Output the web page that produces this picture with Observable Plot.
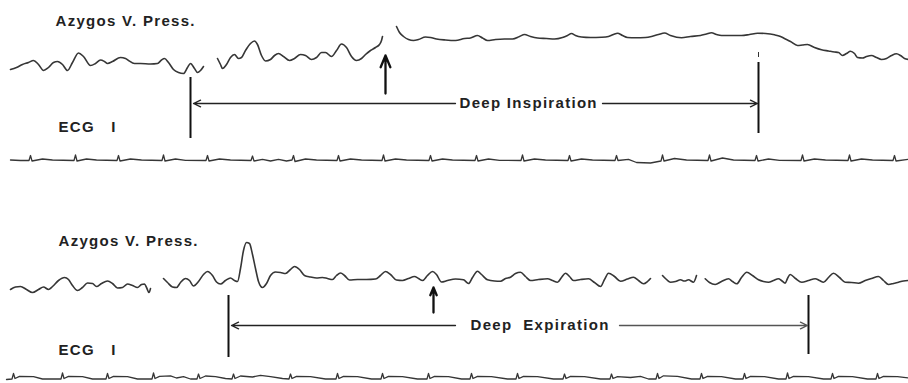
<!DOCTYPE html>
<html><head><meta charset="utf-8">
<script src="https://cdn.jsdelivr.net/npm/d3@7"></script>
<script src="https://cdn.jsdelivr.net/npm/@observablehq/plot@0.6"></script>
<style>
html,body{margin:0;padding:0;background:#fff;}
#chart svg text{letter-spacing:1.3px;}
</style></head><body><div id="chart"></div>
<script>
// ---- Top record: deep inspiration ----
const pressTopA = [[10,69],[16,67],[22,64],[28,62],[33,60],[38,64],[43,70],[48,67],[53,62],[57,61],[62,64],[67,70],[72,62],[78,52.5],[83,56],[90,65],[95,63],[100,59.5],[104,61],[107,63],[112,61],[120,57],[125,58],[128,60],[134,63],[140,63],[150,63.5],[157,63],[161,59.5],[164,58],[168,62],[173,69],[178,72],[183,73],[187,67],[190,63],[194,68],[197,72],[200,70],[203,66]];
const pressTopB = [[217,58],[220,64],[222,68],[226,64],[230,57],[234,54],[238,58],[241,57],[245,50],[250,43],[254,40.5],[257,44],[261,55],[265,60.5],[270,59],[274,55],[278,53],[283,56],[289,60],[294,58],[300,54],[305,55],[311,59],[316,57],[321,52],[325,52],[331,56],[336,50],[341,43.5],[346,47],[351,56],[356,60],[361,58],[365,54],[370,50],[375,47],[379,44],[381,40],[382,36]];
const pressTopC = [[396,26],[399,32],[403,36],[408,39],[413,40],[418,39],[425,36.5],[430,37],[436,38.5],[445,39.5],[455,40],[464,38],[470,37.5],[477,35],[482,37.5],[487,40],[495,39],[504,38.5],[512,38.5],[519,36],[524,34],[530,36],[537,37.5],[546,38],[554,38.5],[562,37],[567,35],[571,33],[575,35],[581,36.5],[590,37],[601,36.7],[608,36],[613,34],[617,32.7],[622,35],[627,37],[635,37.3],[645,37],[651,36],[658,34],[664,32.5],[670,35],[681,37.3],[690,36],[700,35],[706,33.5],[711,32.3],[716,34],[721,35],[731,35],[741,35],[749,34],[757,32.7],[765,33],[774,34.3],[780,36],[784,38],[790,41],[797,45],[802,44.5],[807,44],[814,47],[821,49.3],[828,50.5],[834,51.5],[838,52],[842,55],[846,53],[850,50.7],[854,53],[857,57],[862,57.5],[866,56],[871,55],[876,57],[881,59],[886,58],[891,55],[896,53.3],[900,55],[904,58],[908,59]];
const ecgTop = [[10,159.5],[20,160],[28.5,160],[30,155],[31.5,160.5],[42,158.5],[52,159.5],[73.5,160],[75,154.5],[76.5,160.5],[86,158.5],[96,159.5],[116.5,160],[118,155],[119.5,160.5],[130,158.5],[141,159.5],[161.5,160],[163,154.5],[164.5,160.5],[175,158.5],[185,159.8],[205.5,160],[207,155],[208.5,160.5],[219,158.5],[230,159.5],[250.5,160],[252,155.5],[253.5,160.5],[262,158.8],[270,160.5],[278,158.8],[286,160.5],[291.5,159.5],[293,155],[294.5,161],[305,158.5],[316,159.5],[336.5,160],[338,155],[339.5,160.5],[350,158.5],[361,159.5],[381.5,160],[383,154.5],[384.5,160.5],[395,158.5],[406,159.5],[428.5,160],[430,155],[431.5,160.5],[442,158.5],[452,159.5],[474.5,160],[476,155],[477.5,160.5],[488,158.5],[499,159.8],[520.5,160],[522,154.5],[523.5,160.5],[534,158.5],[545,159.5],[567.5,160],[569,155],[570.5,160.5],[581,158.5],[592,159.5],[614.5,160],[616,155],[617.5,160],[628,158.8],[636,162],[650,162.5],[660.5,160.5],[662,154.5],[663.5,160.5],[674,158],[686,159.5],[707.5,160],[709,154.5],[710.5,160.5],[722,157.5],[733,159.5],[754.5,160],[756,155],[757.5,160.5],[768,158.5],[779,159.8],[800.5,160],[802,154.5],[803.5,160.5],[814,158.5],[825,159.5],[847.5,160],[849,154.5],[850.5,160.5],[861,158.5],[872,159.5],[892.5,160],[894,155],[895.5,160.5],[908,158.8]];

// ---- Bottom record: deep expiration ----
const pressBotA = [[10,289],[15,286.5],[20,286],[26,289],[32,292],[38,289],[43,286.5],[48,289],[52,286],[58,280],[64,277],[68,279],[72,285],[77,290],[82,287],[87,282.5],[92,283],[96,286],[101,283],[107,280.5],[112,283],[117,287.5],[122,287],[127,283.5],[132,285],[137,287],[141,284],[144,283.5],[146,287],[148.5,292],[150,288]];
const pressBotB = [[163,278],[167,282],[172,286.5],[176,287],[180,282],[185,278],[189,280],[193,285.5],[198,281],[203,274],[207,271],[212,275],[216,281.5],[220,283.5],[225,280],[230,277.5],[234,280],[237,281],[240,268],[243,250],[246,242],[249,243],[252,254],[255,268],[258,281],[262,287],[266,283],[270,275],[275,271.5],[280,272],[285,273],[290,269],[294,266],[299,269],[304,275],[310,276.5],[316,277.5],[322,277],[327,278],[332,279],[336,275],[340,272.5],[344,275],[349,279.5],[357,279],[366,279],[375,278.5],[380,275],[385,271],[390,274],[396,279.5],[402,280],[408,278],[414,276],[418,278],[422,280],[427,275],[432,271],[436,274],[441,281.5],[447,280],[455,278.5],[463,279.3],[468,283],[472,277],[477,270.7],[481,274],[487,279.3],[494,280.5],[500,280.7],[505,278],[510,276.7],[515,273],[520,271.7],[525,276],[530,280],[538,279],[547,278.3],[552,280],[557,281.7],[561,277],[565,272.7],[569,276],[573,280],[580,279],[588,278.3],[594,282],[600,286],[604,279],[608,272.7],[614,276],[620,280.7],[627,278.5],[633,276.7],[638,280],[643,283.3],[647,281],[650,278]];
const pressBotC = [[662,275],[666,279],[670,281.7],[675,281],[680,279.3],[684,280.5],[688,279.3],[693,281.7],[696,275]];
const pressBotD = [[704.7,278.3],[709,282],[714.7,284],[721,281],[728,278.3],[732,281],[736.3,283.3],[741,277],[746.3,271.7],[752,275],[758,279.3],[763,281],[768,281.7],[773,280],[778,278.3],[781,280],[784.7,282.7],[787,278],[789.7,274],[795,278],[801.3,281.7],[808,280],[814.7,278.3],[819,280],[823,281.7],[828,277],[833,272.7],[839,277],[844.7,281.7],[851,282],[858,282.7],[864.7,280],[871,278],[878,276],[883,280],[888,284],[893,283],[898,281.7],[903,280.5],[908,280]];
const ecgBot = [[6,379],[11.5,378.5],[13,373],[14.5,378],[19,375.8],[33,376.2],[42,378.5],[60.5,378.5],[62,372.5],[63.5,378],[68,375.8],[82,376.2],[92,378.5],[105.5,378.5],[107,373],[108.5,378],[113,375.8],[127,376.2],[137,378.5],[151.5,378.5],[153,372.5],[154.5,378],[159,375.8],[170,375.3],[176,377.5],[183,376.2],[190,378.5],[196.5,378.5],[198,373.5],[199.5,378],[205,375.5],[215,376.2],[225,378],[231.5,378.5],[233,373.5],[234.5,378],[240,375.5],[252,376.5],[260,374.8],[270,376.2],[282,378],[288.5,378.5],[290,373.5],[291.5,378],[296,375.8],[310,376.2],[325,378.5],[335.5,378.5],[337,373],[338.5,378],[343,375.8],[357,376.2],[371,378.5],[380.5,378.5],[382,373],[383.5,378],[388,375.8],[402,376.2],[417,378.5],[426.5,378.5],[428,373],[429.5,378],[434,375.8],[448,376.2],[461,378.5],[469.5,378.5],[471,373],[472.5,378],[477,375.8],[491,376.2],[507,378.5],[515.5,378.5],[517,373],[518.5,378],[523,375.8],[537,376.2],[553,378.5],[562.5,378.5],[564,373.5],[565.5,378],[570,375.8],[584,376.2],[600,378.5],[609.5,378.5],[611,373.5],[612.5,378],[617,376.2],[630,377],[640,375.8],[648,378.5],[655.5,378.5],[657,373],[658.5,378],[663,375.3],[677,375.8],[691,378.5],[699.5,378.5],[701,373],[702.5,378],[707,375.8],[721,376.2],[735,378.5],[742.5,378.5],[744,373],[745.5,378],[750,375.8],[764,376.2],[778,378.5],[785.5,378.5],[787,372.5],[788.5,378],[793,375.8],[808,376.2],[823,378.5],[830.5,378.5],[832,373],[833.5,378],[838,375.8],[852,376.2],[867,378.5],[875.5,378.5],[877,373],[878.5,378],[883,375.8],[897,376.2],[908,377.5]];

// ---- Annotations ----
const labelText = ["Azygos V. Press.", "ECG\u00a0\u00a0\u00a0I", "Azygos V. Press.", "ECG\u00a0\u00a0\u00a0I"];
const labelX = [55, 58, 58, 58];
const labelY = [21, 127, 241, 350];
const spanText = ["Deep Inspiration", "Deep\u00a0\u00a0Expiration"];
const spanTextX = [459, 470];
const spanY = [103, 325];
const spanStart = [190, 228];
const spanEnd = [758, 808];
const spanLeftFrom = [455, 455];
const spanRightFrom = [602, 619];
const markerY1 = [77, 62, 295, 295];
const markerY2 = [138, 133, 357, 354];
const markerX = [190, 758, 228, 808];
const eventX = [385, 433];
const eventFrom = [93, 312];
const eventTo = [55, 287];

const idx = (n) => d3.range(n);
const traceColor = "#363636";
const font = "Liberation Sans, Arial, sans-serif";
const wave = (data) => Plot.line(data, {x: d => d[0], y: d => d[1], curve: "monotone-x", stroke: traceColor, strokeWidth: 1.6});
const ecg = (data) => Plot.line(data, {x: d => d[0], y: d => d[1], curve: "linear", stroke: traceColor, strokeWidth: 1.3});

const chart = Plot.plot({
  width: 908, height: 383, margin: 0,
  x: {domain: [0, 908], axis: null},
  y: {domain: [0, 383], reverse: true, axis: null},
  marks: [
    wave(pressTopA), wave(pressTopB), wave(pressTopC), ecg(ecgTop),
    wave(pressBotA), wave(pressBotB), wave(pressBotC), wave(pressBotD), ecg(ecgBot),
    Plot.ruleX(idx(4), {x: i => markerX[i], y1: i => markerY1[i], y2: i => markerY2[i], stroke: "#111", strokeWidth: 2}),
    Plot.ruleX([758], {y1: [52], y2: [57], stroke: "#333", strokeWidth: 1}),
    Plot.arrow(idx(2), {x1: i => spanLeftFrom[i], x2: i => spanStart[i] + 3, y1: i => spanY[i], y2: i => spanY[i], stroke: "#222", strokeWidth: 1.3, headLength: 9, headAngle: 50}),
    Plot.arrow(idx(2), {x1: i => spanRightFrom[i], x2: i => spanEnd[i] - 1, y1: i => spanY[i], y2: i => spanY[i], stroke: i => i ? "#555" : "#222", strokeWidth: 1.3, headLength: 9, headAngle: 50}),
    Plot.arrow(idx(2), {x1: i => eventX[i], x2: i => eventX[i], y1: i => eventFrom[i], y2: i => eventTo[i], stroke: "#111", strokeWidth: 2.3, headLength: 10, headAngle: 45}),
    Plot.text(idx(4), {x: i => labelX[i], y: i => labelY[i], text: i => labelText[i], textAnchor: "start", fontSize: 15, fontWeight: "bold", fontFamily: font, fill: "#222"}),
    Plot.text(idx(2), {x: i => spanTextX[i], y: i => spanY[i], text: i => spanText[i], textAnchor: "start", fontSize: 15, fontWeight: "bold", fontFamily: font, fill: "#222"})
  ]
});
document.getElementById("chart").appendChild(chart);
</script></body></html>
